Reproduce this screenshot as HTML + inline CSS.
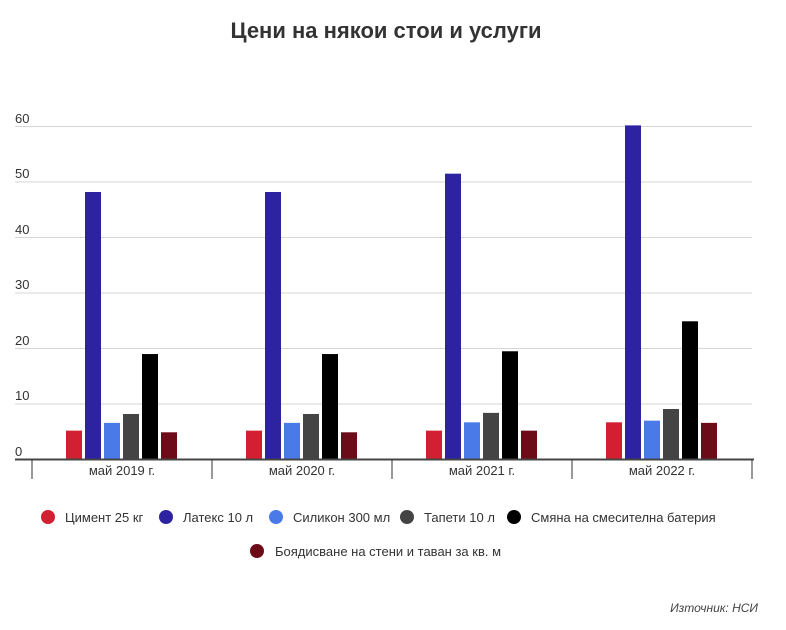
<!DOCTYPE html>
<html><head><meta charset="utf-8"><style>body{margin:0;background:#fff}</style></head><body>
<svg width="786" height="625" xmlns="http://www.w3.org/2000/svg" font-family="Liberation Sans, sans-serif">
<rect width="786" height="625" fill="#fff"/>
<text x="386" y="38" text-anchor="middle" font-size="22" font-weight="bold" fill="#333">Цени на някои стои и услуги</text>
<g stroke="#d6d6d6" stroke-width="1">
<line x1="15" x2="752" y1="126.5" y2="126.5"/><line x1="15" x2="752" y1="182" y2="182"/><line x1="15" x2="752" y1="237.5" y2="237.5"/><line x1="15" x2="752" y1="293" y2="293"/><line x1="15" x2="752" y1="348.5" y2="348.5"/><line x1="15" x2="752" y1="404" y2="404"/>
</g>
<g font-size="13" fill="#333">
<text x="15" y="123">60</text><text x="15" y="178">50</text><text x="15" y="234">40</text><text x="15" y="289">30</text><text x="15" y="345">20</text><text x="15" y="400">10</text><text x="15" y="456">0</text>
</g>
<g>
<rect x="66" y="430.64" width="16" height="28.86" fill="#d21f32"/>
<rect x="85" y="191.99" width="16" height="267.51" fill="#2d22a0"/>
<rect x="104" y="422.87" width="16" height="36.63" fill="#4a7ae8"/>
<rect x="123" y="413.99" width="16" height="45.51" fill="#444"/>
<rect x="142" y="354.05" width="16" height="105.45" fill="#000"/>
<rect x="161" y="432.3" width="16" height="27.2" fill="#6b0c18"/>

<rect x="246" y="430.64" width="16" height="28.86" fill="#d21f32"/>
<rect x="265" y="191.99" width="16" height="267.51" fill="#2d22a0"/>
<rect x="284" y="422.87" width="16" height="36.63" fill="#4a7ae8"/>
<rect x="303" y="413.99" width="16" height="45.51" fill="#444"/>
<rect x="322" y="354.05" width="16" height="105.45" fill="#000"/>
<rect x="341" y="432.3" width="16" height="27.2" fill="#6b0c18"/>

<rect x="426" y="430.64" width="16" height="28.86" fill="#d21f32"/>
<rect x="445" y="173.67" width="16" height="285.83" fill="#2d22a0"/>
<rect x="464" y="422.31" width="16" height="37.19" fill="#4a7ae8"/>
<rect x="483" y="412.88" width="16" height="46.62" fill="#444"/>
<rect x="502" y="351.27" width="16" height="108.23" fill="#000"/>
<rect x="521" y="430.64" width="16" height="28.86" fill="#6b0c18"/>

<rect x="606" y="422.31" width="16" height="37.19" fill="#d21f32"/>
<rect x="625" y="125.39" width="16" height="334.11" fill="#2d22a0"/>
<rect x="644" y="420.65" width="16" height="38.85" fill="#4a7ae8"/>
<rect x="663" y="409" width="16" height="50.5" fill="#444"/>
<rect x="682" y="321.3" width="16" height="138.2" fill="#000"/>
<rect x="701" y="422.87" width="16" height="36.63" fill="#6b0c18"/>
</g>
<line x1="15" x2="754" y1="459.5" y2="459.5" stroke="#444" stroke-width="2"/>
<g stroke="#333" stroke-width="1"><line x1="32" x2="32" y1="460" y2="479"/><line x1="212" x2="212" y1="460" y2="479"/><line x1="392" x2="392" y1="460" y2="479"/><line x1="572" x2="572" y1="460" y2="479"/><line x1="752" x2="752" y1="460" y2="479"/></g>
<g font-size="13" fill="#333" text-anchor="middle"><text x="122" y="475">май 2019 г.</text><text x="302" y="475">май 2020 г.</text><text x="482" y="475">май 2021 г.</text><text x="662" y="475">май 2022 г.</text></g>
<g font-size="13" fill="#333">
<circle cx="48" cy="517" r="7" fill="#d21f32"/><text x="65" y="522">Цимент 25 кг</text>
<circle cx="166" cy="517" r="7" fill="#2d22a0"/><text x="183" y="522">Латекс 10 л</text>
<circle cx="276" cy="517" r="7" fill="#4a7ae8"/><text x="293" y="522">Силикон 300 мл</text>
<circle cx="407" cy="517" r="7" fill="#444"/><text x="424" y="522">Тапети 10 л</text>
<circle cx="514" cy="517" r="7" fill="#000"/><text x="531" y="522">Смяна на смесителна батерия</text>
<circle cx="257" cy="551" r="7" fill="#6b0c18"/><text x="275" y="556">Боядисване на стени и таван за кв. м</text>
</g>
<text x="758" y="612" text-anchor="end" font-size="12" font-style="italic" fill="#444">Източник: НСИ</text>
</svg>
</body></html>
